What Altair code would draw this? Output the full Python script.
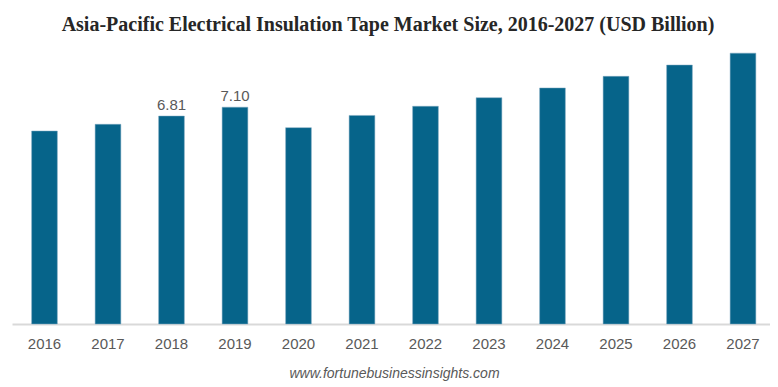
import altair as alt
import pandas as pd

years = ["2016", "2017", "2018", "2019", "2020", "2021", "2022", "2023", "2024", "2025", "2026", "2027"]
values = [6.32, 6.54, 6.81, 7.10, 6.43, 6.83, 7.13, 7.41, 7.73, 8.11, 8.48, 8.87]
labels = ["", "", "6.81", "7.10", "", "", "", "", "", "", "", ""]

df = pd.DataFrame({"year": years, "value": values, "label": labels})

x = alt.X("year:N", sort=years,
          scale=alt.Scale(paddingInner=0.595, paddingOuter=0.266, align=0.581, round=False),
          axis=alt.Axis(title="www.fortunebusinessinsights.com", labelAngle=0,
                        labelFont="Liberation Sans", labelFontSize=15, labelColor="#595959",
                        labelPadding=12, ticks=False, domainColor="#d9d9d9", domainWidth=2,
                        titleFont="Liberation Sans", titleFontSize=14, titleFontStyle="italic",
                        titleFontWeight="normal", titleColor="#595959", titlePadding=15,
                        titleX=382))
y = alt.Y("value:Q", scale=alt.Scale(domain=[0, 9.3], nice=False), axis=None)

bars = alt.Chart(df).mark_bar(color="#06648a", stroke="#7fa9c0", strokeWidth=0.5).encode(x=x, y=y)
text = alt.Chart(df).mark_text(baseline="alphabetic", dy=-6, font="Liberation Sans", fontSize=15,
                               color="#595959").encode(x=x, y=y, text="label:N")

chart = (bars + text).properties(
    width=758, height=284,
    title=alt.TitleParams("Asia-Pacific Electrical Insulation Tape Market Size, 2016-2027 (USD Billion)",
                          font="Liberation Serif", fontSize=20, fontWeight="bold", color="#262626",
                          anchor="middle", offset=0, dx=-3),
    autosize=alt.AutoSizeParams(type="none"),
    padding={"left": 4, "top": 32, "right": 0, "bottom": 58},
).configure_view(stroke=None)

chart.save("out.html", embed_options={"renderer": "svg", "actions": False})
